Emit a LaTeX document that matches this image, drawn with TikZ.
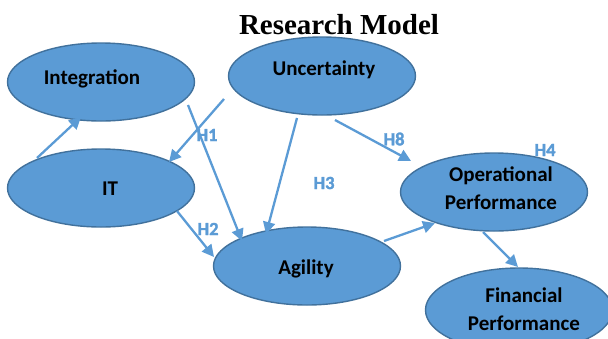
\documentclass[tikz,border=0pt]{standalone}
\usepackage{fontspec}
\setmainfont{Liberation Serif}
\newfontfamily\labelfont{Carlito}
\newfontfamily\hypfont{Carlito}[BoldFeatures={FakeBold=1.6}]
\usetikzlibrary{shapes.geometric,arrows.meta}
\definecolor{ovalfill}{HTML}{5B9BD5}
\definecolor{ovaledge}{HTML}{41719C}
\definecolor{linkblue}{HTML}{5B9BD5}
\begin{document}
\begin{tikzpicture}[x=1pt,y=-1pt,
  oval/.style={ellipse, draw=ovaledge, line width=1.4pt, fill=ovalfill,
    minimum width=187pt, minimum height=78pt, inner sep=0pt},
  ovaltext/.style={font=\labelfont\bfseries\fontsize{21}{28}\selectfont,
    text=black, anchor=base, inner sep=0pt},
  hyp/.style={font=\hypfont\bfseries\fontsize{18.5}{20}\selectfont,
    text=linkblue, inner sep=0pt},
  link/.style={draw=linkblue, line width=2.3pt,
    -{Triangle[length=12pt,width=12pt]}}]
\useasboundingbox (0,0) rectangle (608,338);
\clip (0,0) rectangle (608,338);

% title
\node[font=\bfseries\fontsize{29}{34}\selectfont, anchor=base, inner sep=0pt]
  (title) at (339,34) {Research Model};

% constructs
\node[oval] (integ) at (101,82) {};
\node[oval] (uncert) at (322,76) {};
\node[oval] (it) at (101,188) {};
\node[oval] (agil) at (307,266) {};
\node[oval] (oper) at (494,192) {};
\node[oval, minimum height=84pt] (fin) at (519,310) {};

\node[ovaltext] (integ-t) at (92,84) {Integration};
\node[ovaltext] (uncert-t) at (324,75) {Uncertainty};
\node[ovaltext] (it-t) at (110,195) {IT};
\node[ovaltext] (agil-t) at (306,274) {Agility};
\node[ovaltext] (oper-t1) at (501,181) {Operational};
\node[ovaltext] (oper-t2) at (501,209) {Performance};
\node[ovaltext] (fin-t1) at (524,302) {Financial};
\node[ovaltext] (fin-t2) at (524,330) {Performance};

% end points of the paths
\coordinate (p1a) at (37,158);   \coordinate (p1b) at (81,117);
\coordinate (p2a) at (224,99);   \coordinate (p2b) at (169,162);
\coordinate (p3a) at (188,105);  \coordinate (p3b) at (242,241);
\coordinate (p4a) at (297,118);  \coordinate (p4b) at (266,234);
\coordinate (p5a) at (177,211);  \coordinate (p5b) at (214,257);
\coordinate (p6a) at (335,120);  \coordinate (p6b) at (411,161);
\coordinate (p7a) at (384,241);  \coordinate (p7b) at (435,223);
\coordinate (p8a) at (483,232);  \coordinate (p8b) at (518,267);

% paths
\draw[link] (p1a) -- (p1b);
\draw[link] (p2a) -- (p2b);
\draw[link] (p3a) -- (p3b);
\draw[link] (p4a) -- (p4b);
\draw[link] (p5a) -- (p5b);
\draw[link] (p6a) -- (p6b);
\draw[link] (p7a) -- (p7b);
\draw[link] (p8a) -- (p8b);

% hypotheses
\node[hyp] (h1) at (207,135) {H1};
\node[hyp] (h2) at (208,229) {H2};
\node[hyp] (h3) at (324,183) {H3};
\node[hyp] (h8) at (394,139) {H8};
\node[hyp] (h4) at (545,150) {H4};
\end{tikzpicture}
\end{document}
